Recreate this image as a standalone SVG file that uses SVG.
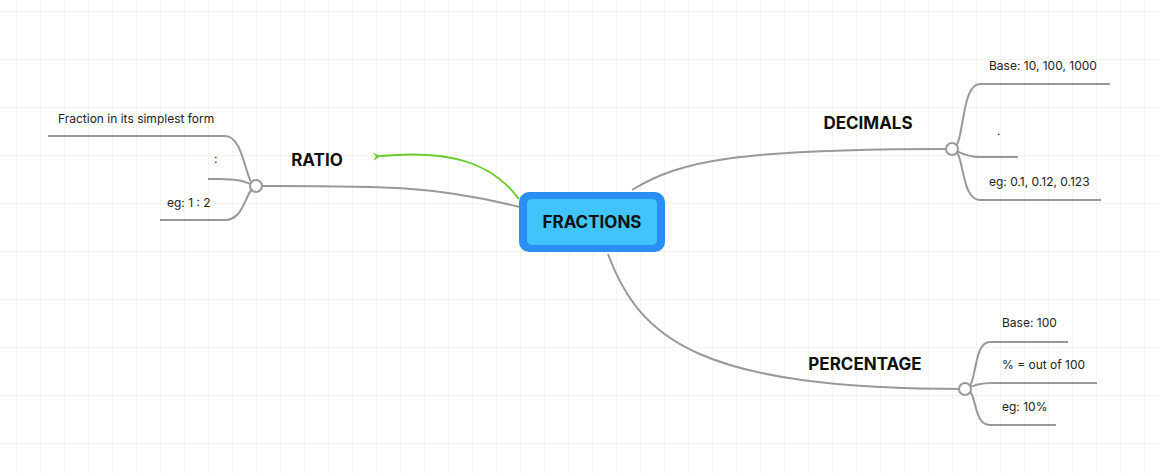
<svg xmlns="http://www.w3.org/2000/svg" width="1159" height="473" viewBox="0 0 1159 473">
<defs>
<pattern id="gv" x="16" y="0" width="24" height="48" patternUnits="userSpaceOnUse">
<line x1="0" y1="0" x2="0" y2="48" stroke="#e6eed8" stroke-width="1"/>
</pattern>
<pattern id="gh" x="0" y="11" width="24" height="48" patternUnits="userSpaceOnUse">
<line x1="0" y1="0" x2="24" y2="0" stroke="#f0f3e6" stroke-width="1.5"/>
</pattern>
<marker id="ga" markerWidth="10" markerHeight="10" refX="2" refY="5" orient="auto" markerUnits="userSpaceOnUse">
<path d="M9,1 L1,5 L9,9 L6,5 Z" fill="#6ccb2a"/>
</marker>
</defs>
<style>
.c{fill:none;stroke:#999;stroke-width:2}
.t{font-family:Inter,"Liberation Sans",sans-serif;font-size:12px;fill:#222}
.h{font-family:Inter,"Liberation Sans",sans-serif;font-size:17px;font-weight:700;fill:#111}
.k{fill:#fff;stroke:#999;stroke-width:2}
</style>
<rect width="1159" height="473" fill="#fff"/>
<rect width="1159" height="473" fill="url(#gh)"/>
<rect width="1159" height="473" fill="url(#gv)"/>
<g id="connectors">
<path class="c" d="M520,207 C430,185 380,186 256,186"/>
<path class="c" d="M256,186 C245,186 245,136 225,136 L48,136"/>
<path class="c" d="M256,186 C245,182 240,179 220,179 L208,179"/>
<path class="c" d="M256,186 C245,190 245,220 225,220 L160,220"/>
<path class="c" d="M632,190 C680,160 740,149 952,149"/>
<path class="c" d="M952,149 C965,149 960,84 980,84 L1110,84"/>
<path class="c" d="M952,149 C960,152 965,157 980,157 L1018,157"/>
<path class="c" d="M952,149 C965,149 960,200 980,200 L1101,200"/>
<path class="c" d="M608,254 C640,340 700,389 965,389"/>
<path class="c" d="M965,389 C978,389 972,342 990,342 L1068,342"/>
<path class="c" d="M965,389 C975,385 980,383 992,383 L1097,383"/>
<path class="c" d="M965,389 C978,389 972,425 990,425 L1056,425"/>
<path d="M519,199 C490,160 445,150 380,156" fill="none" stroke="#6ccb2a" stroke-width="2" marker-end="url(#ga)"/>
</g>
<g id="fractions">
<rect x="519" y="192" width="146" height="60" rx="10" fill="#2a8ef5"/>
<rect x="527" y="199" width="130" height="46" rx="5" fill="#40c4fb"/>
<text class="h" x="592" y="228" text-anchor="middle">FRACTIONS</text>
</g>
<g id="ratio">
<text class="h" x="317" y="166" text-anchor="middle">RATIO</text>
<circle class="k" cx="256" cy="186" r="6"/>
<text class="t" x="58" y="123">Fraction in its simplest form</text>
<text class="t" x="214" y="163">:</text>
<text class="t" x="167" y="207">eg:   1 : 2</text>
</g>
<g id="decimals">
<text class="h" x="868" y="129" text-anchor="middle">DECIMALS</text>
<circle class="k" cx="952" cy="149" r="6"/>
<text class="t" x="989" y="70">Base: 10, 100, 1000</text>
<text class="t" x="997" y="135">.</text>
<text class="t" x="989" y="186">eg: 0.1, 0.12, 0.123</text>
</g>
<g id="percentage">
<text class="h" x="865" y="370" text-anchor="middle">PERCENTAGE</text>
<circle class="k" cx="965" cy="389" r="6"/>
<text class="t" x="1002" y="327">Base: 100</text>
<text class="t" x="1002" y="369">% = out of 100</text>
<text class="t" x="1002" y="411">eg: 10%</text>
</g>
</svg>
